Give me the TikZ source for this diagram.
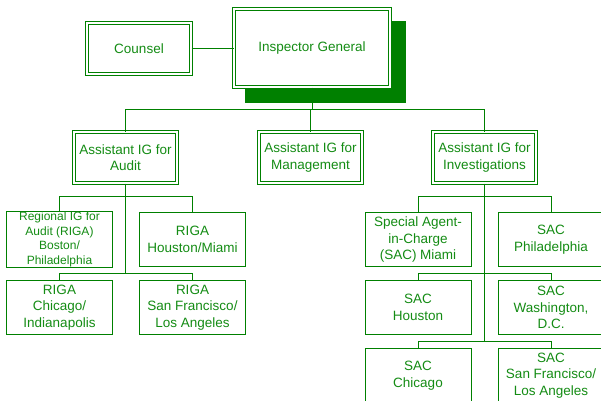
\documentclass[tikz,border=0pt]{standalone}
\usepackage{fontspec}
\setmainfont{Liberation Sans}
\usetikzlibrary{backgrounds}
\definecolor{ogreen}{RGB}{0,128,0}
\definecolor{tgreen}{RGB}{20,140,20}
\begin{document}
\begin{tikzpicture}[x=1pt,y=-1pt,
  box/.style={draw=ogreen, line width=1pt, text=tgreen, align=center, inner sep=1pt,
    minimum width=106pt, minimum height=54pt, fill=white,
    font=\fontsize{13.5}{16.5}\selectfont},
  dbox/.style={box, double=white, double distance=2pt, line width=1pt,
    minimum width=103pt, minimum height=51pt},
  link/.style={draw=ogreen, line width=1pt}]
\useasboundingbox (0,0) rectangle (601,400);
\clip (0,0) rectangle (601,400);

% top level
\node[dbox, minimum width=156pt, minimum height=78pt] (ig) at (312,48) {Inspector General};
\node[dbox, minimum width=104pt] (counsel) at (139,48.5) {Counsel};
\begin{scope}[on background layer]
  \fill[white] (0,0) rectangle (601,400);
  \fill[ogreen] ([shift={(11.5,12.5)}]ig.north west) rectangle ([shift={(15.5,15.5)}]ig.south east);
\end{scope}

% assistant IGs
\node[dbox] (audit) at (125.5,157.5) {Assistant IG for\\Audit};
\node[dbox] (mgmt) at (310.5,157.5) {Assistant IG for\\Management};
\node[dbox] (inv) at (484.5,157.5) {Assistant IG for\\Investigations};

% audit regions
\node[box, font=\fontsize{12}{14.5}\selectfont] (r1) at (59.5,239.5) {Regional IG for\\Audit (RIGA)\\Boston/\\Philadelphia};
\node[box] (r2) at (192.5,239.5) {RIGA\\Houston/Miami};
\node[box] (r3) at (59.5,307.5) {RIGA\\Chicago/\\Indianapolis};
\node[box] (r4) at (192.5,307.5) {RIGA\\San Francisco/\\Los Angeles};

% investigation offices
\node[box] (s1) at (418,239.5) {Special Agent-\\in-Charge\\(SAC) Miami};
\node[box] (s2) at (551,239.5) {SAC\\Philadelphia};
\node[box] (s3) at (418,307.5) {SAC\\Houston};
\node[box] (s4) at (551,307.5) {SAC\\Washington,\\D.C.};
\node[box] (s5) at (418,375.5) {SAC\\Chicago};
\node[box] (s6) at (551,375.5) {SAC\\San Francisco/\\Los Angeles};

% bus coordinates
\coordinate (b0) at (0,109.5);
\coordinate (b1) at (0,196.5);
\coordinate (b2) at (0,273.5);
\coordinate (b3) at (0,341.5);

% connectors
\draw[link] (counsel.east) -- (ig.west |- counsel.east);
\draw[link] ([xshift=0.5pt]ig.south) -- ([xshift=0.5pt]ig.south |- b0);
\draw[link] (audit.north) -- (audit.north |- b0) -- (inv.north |- b0) -- (inv.north);
\draw[link] (mgmt.north) -- (mgmt.north |- b0);

\draw[link] (audit.south) -- (audit.south |- b2);
\draw[link] (r1.north) -- (r1.north |- b1) -- (r2.north |- b1) -- (r2.north);
\draw[link] (r3.north) -- (r3.north |- b2) -- (r4.north |- b2) -- (r4.north);

\draw[link] (inv.south) -- (inv.south |- b3);
\draw[link] (s1.north) -- (s1.north |- b1) -- (s2.north |- b1) -- (s2.north);
\draw[link] (s3.north) -- (s3.north |- b2) -- (s4.north |- b2) -- (s4.north);
\draw[link] (s5.north) -- (s5.north |- b3) -- (s6.north |- b3) -- (s6.north);
\end{tikzpicture}
\end{document}
